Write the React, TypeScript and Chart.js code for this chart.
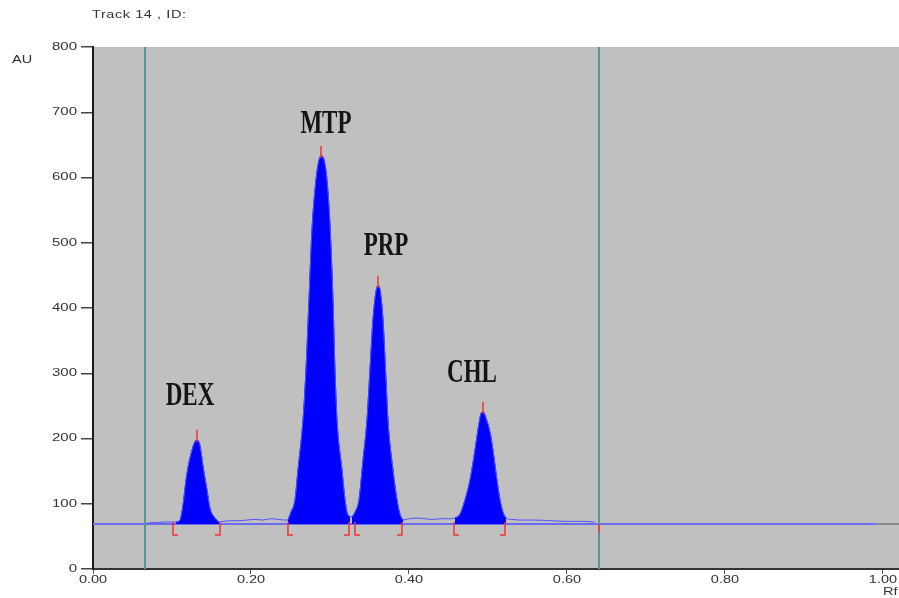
import React, { useEffect, useRef } from "react";
import { Chart, registerables } from "chart.js";

Chart.register(...registerables);

// Axis ticks
const xTickValues = [0, 0.2, 0.4, 0.6, 0.8, 1.0];
const xTickLabels = ["0.00", "0.20", "0.40", "0.60", "0.80", "1.00"];
const yTickValues = [0, 100, 200, 300, 400, 500, 600, 700, 800];
const yTickLabels = ["0", "100", "200", "300", "400", "500", "600", "700", "800"];
const xMax = 1.0203;
const yMax = 800;

// Baseline
const baselineAU = 69;
const baselineEndRf = 0.991;

// Peak labels
const peakNames = ["DEX", "MTP", "PRP", "CHL"];
const labelRf = [0.1228, 0.2949, 0.3709, 0.4797];
const labelAu = [265, 682, 495, 300];

// Peak traces (Rf, AU)
const dexRf = [0.1051, 0.1101, 0.1139, 0.1177, 0.1203, 0.1253, 0.1291, 0.1316, 0.1354, 0.1392, 0.1443, 0.1481, 0.1544, 0.1595];
const dexAu = [72, 75, 98, 136, 156, 182, 195, 198, 189, 158, 121, 93, 78, 72];

const mtpRf = [0.2468, 0.2506, 0.2557, 0.2595, 0.2658, 0.2696, 0.2734, 0.2772, 0.281, 0.2848, 0.2886, 0.2924, 0.2962, 0.3, 0.3038, 0.3063, 0.3089, 0.3152, 0.319, 0.3215, 0.3253];
const mtpAu = [75, 87, 106, 152, 228, 305, 412, 520, 581, 619, 633, 627, 596, 527, 412, 305, 228, 152, 106, 87, 80];

const prpRf = [0.3278, 0.3316, 0.3367, 0.3418, 0.3468, 0.3506, 0.3544, 0.3582, 0.3608, 0.3633, 0.3671, 0.3709, 0.3734, 0.3797, 0.3848, 0.3886, 0.3924];
const prpAu = [80, 87, 106, 167, 228, 305, 382, 425, 434, 428, 382, 290, 228, 152, 106, 84, 75];

const chlRf = [0.4582, 0.4646, 0.4709, 0.4772, 0.4835, 0.4873, 0.4911, 0.4937, 0.4975, 0.5025, 0.5063, 0.5114, 0.5152, 0.519, 0.5228];
const chlAu = [78, 84, 106, 136, 182, 213, 238, 241, 231, 210, 182, 136, 106, 87, 78];

// Noise between peaks
const noiseARf = [0.068, 0.075, 0.082, 0.09, 0.097, 0.104];
const noiseAAu = [70, 71, 71, 72, 72, 72];
const noiseBRf = [0.165, 0.175, 0.185, 0.195, 0.205, 0.215, 0.225, 0.235, 0.243];
const noiseBAu = [73, 74, 74, 75, 76, 75, 77, 76, 75];
const noiseCRf = [0.4, 0.41, 0.42, 0.43, 0.44, 0.45];
const noiseCAu = [77, 78, 77, 76, 77, 77];
const noiseDRf = [0.53, 0.54, 0.56, 0.58, 0.6, 0.62, 0.635];
const noiseDAu = [76, 75, 75, 74, 73, 73, 72];

// Integration brackets and markers
const peakStartRf = [0.1013, 0.2468, 0.3316, 0.457];
const peakEndRf = [0.1608, 0.3241, 0.3911, 0.5215];
const trackLinesRf = [0.0658, 0.6405];
const endMarkRf = [0.6405];

const pts = (xs: number[], ys: number[]) => xs.map((x, i) => ({ x, y: ys[i] }));

function drawText(
  ctx: CanvasRenderingContext2D,
  text: string,
  x: number,
  y: number,
  font: string,
  sx: number,
  sy: number,
  align: CanvasTextAlign,
  color: string,
  spacing = "0px"
) {
  ctx.save();
  ctx.translate(x, y);
  ctx.scale(sx, sy);
  ctx.font = font;
  ctx.fillStyle = color;
  ctx.textAlign = align;
  ctx.textBaseline = "middle";
  (ctx as any).letterSpacing = spacing;
  ctx.fillText(text, 0, 0);
  ctx.restore();
}

const decorPlugin = {
  id: "decor",
  beforeDraw(chart: any) {
    const { ctx, chartArea } = chart;
    ctx.save();
    ctx.fillStyle = "#c0c0c0";
    ctx.fillRect(chartArea.left, chartArea.top, chartArea.right - chartArea.left, chartArea.bottom - chartArea.top);
    ctx.restore();
  },
  afterDatasetsDraw(chart: any) {
    const { ctx, chartArea } = chart;
    const xs = chart.scales.x;
    const ys = chart.scales.y;
    ctx.save();
    // track lines
    ctx.strokeStyle = "#5b9494";
    ctx.lineWidth = 2;
    trackLinesRf.forEach((r) => {
      const px = Math.round(xs.getPixelForValue(r));
      ctx.beginPath();
      ctx.moveTo(px, chartArea.top);
      ctx.lineTo(px, chartArea.bottom);
      ctx.stroke();
    });
    // brackets
    ctx.strokeStyle = "#f03535";
    ctx.lineWidth = 1.5;
    const yTopB = ys.getPixelForValue(72);
    const yBotB = ys.getPixelForValue(52);
    peakStartRf.forEach((r) => {
      const px = xs.getPixelForValue(r);
      ctx.beginPath();
      ctx.moveTo(px, yTopB);
      ctx.lineTo(px, yBotB);
      ctx.lineTo(px + 5, yBotB);
      ctx.stroke();
    });
    peakEndRf.forEach((r) => {
      const px = xs.getPixelForValue(r);
      ctx.beginPath();
      ctx.moveTo(px, yTopB);
      ctx.lineTo(px, yBotB);
      ctx.lineTo(px - 5, yBotB);
      ctx.stroke();
    });
    endMarkRf.forEach((r) => {
      const px = xs.getPixelForValue(r);
      ctx.beginPath();
      ctx.moveTo(px, ys.getPixelForValue(baselineAU));
      ctx.lineTo(px, ys.getPixelForValue(55));
      ctx.stroke();
    });
    // apex markers
    [
      [dexRf, dexAu],
      [mtpRf, mtpAu],
      [prpRf, prpAu],
      [chlRf, chlAu],
    ].forEach(([rf, au]) => {
      let mi = 0;
      au.forEach((v, i) => {
        if (v > au[mi]) mi = i;
      });
      const px = xs.getPixelForValue(rf[mi]);
      const py = ys.getPixelForValue(au[mi]);
      ctx.beginPath();
      ctx.moveTo(px, py + 2);
      ctx.lineTo(px, py - 10);
      ctx.stroke();
    });
    ctx.restore();
    // peak labels
    peakNames.forEach((n, i) => {
      drawText(
        ctx,
        n,
        xs.getPixelForValue(labelRf[i]),
        ys.getPixelForValue(labelAu[i]),
        'bold 23px "Liberation Serif", "Times New Roman", serif',
        1,
        1.45,
        "center",
        "#141414"
      );
    });
  },
  afterDraw(chart: any) {
    const { ctx, chartArea } = chart;
    const xs = chart.scales.x;
    const ys = chart.scales.y;
    const f = '10px "Liberation Sans", Arial, sans-serif';
    const col = "#333333";
    yTickValues.forEach((v, i) => {
      const py = ys.getPixelForValue(v);
      drawText(ctx, yTickLabels[i], chartArea.left - 16, py, f, 1.5, 1, "right", col);
    });
    xTickValues.forEach((v, i) => {
      const px = xs.getPixelForValue(v);
      drawText(ctx, xTickLabels[i], px, chartArea.bottom + 11, f, 1.45, 1, "center", col);
    });
    drawText(ctx, "AU", 12, 60, f, 1.45, 1, "left", col);
    drawText(ctx, "Track 14 , ID:", 92, 15, f, 1.45, 1, "left", col, "0.4px");
    drawText(ctx, "Rf", xs.getPixelForValue(1.0), chartArea.bottom + 23, f, 1.45, 1, "left", col);
  },
};

export default function App() {
  const ref = useRef<HTMLCanvasElement | null>(null);

  useEffect(() => {
    document.body.style.margin = "0";
    const canvas = ref.current;
    if (!canvas) return;

    const trace = [
      ...pts(noiseARf, noiseAAu),
      ...pts(dexRf, dexAu),
      ...pts(noiseBRf, noiseBAu),
      ...pts(mtpRf, mtpAu),
      ...pts(prpRf, prpAu),
      ...pts(noiseCRf, noiseCAu),
      ...pts(chlRf, chlAu),
      ...pts(noiseDRf, noiseDAu),
    ];

    const peakDs = (rf: number[], au: number[]) => ({
      data: pts(rf, au),
      borderColor: "#0000ff",
      backgroundColor: "#0000ff",
      borderWidth: 1,
      fill: { value: baselineAU },
      pointRadius: 0,
      cubicInterpolationMode: "monotone",
    });

    const chart = new Chart(canvas, {
      type: "line",
      data: {
        datasets: [
          {
            data: trace,
            borderColor: "#5050ff",
            borderWidth: 1,
            pointRadius: 0,
            fill: false,
            cubicInterpolationMode: "monotone",
          } as any,
          peakDs(dexRf, dexAu),
          peakDs(mtpRf, mtpAu),
          peakDs(prpRf, prpAu),
          peakDs(chlRf, chlAu),
          {
            data: [
              { x: 0, y: baselineAU },
              { x: baselineEndRf, y: baselineAU },
            ],
            borderColor: "#6c6cf0",
            borderWidth: 2,
            pointRadius: 0,
            fill: false,
          },
          {
            data: [
              { x: baselineEndRf, y: baselineAU },
              { x: xMax, y: baselineAU },
            ],
            borderColor: "#8a8a8a",
            borderWidth: 2,
            pointRadius: 0,
            fill: false,
          },
        ],
      },
      options: {
        responsive: false,
        maintainAspectRatio: false,
        devicePixelRatio: 1,
        animation: false,
        events: [],
        layout: { padding: { top: 47, left: 0, right: 0, bottom: 0 } },
        plugins: { legend: { display: false }, tooltip: { enabled: false } },
        scales: {
          x: {
            type: "linear",
            min: 0,
            max: xMax,
            afterBuildTicks: (s: any) => {
              s.ticks = xTickValues.map((v) => ({ value: v }));
            },
            afterFit: (s: any) => {
              s.height = 29;
            },
            ticks: { display: false },
            grid: { drawOnChartArea: false, drawTicks: true, tickLength: 5, color: "#555", lineWidth: 1 },
            border: { display: true, color: "#333", width: 2 },
          },
          y: {
            type: "linear",
            min: 0,
            max: yMax,
            afterBuildTicks: (s: any) => {
              s.ticks = yTickValues.map((v) => ({ value: v }));
            },
            afterFit: (s: any) => {
              s.width = 93;
            },
            ticks: { display: false },
            grid: { drawOnChartArea: false, drawTicks: true, tickLength: 12, color: "#444", lineWidth: 1.5 },
            border: { display: true, color: "#1a1a1a", width: 2 },
          },
        },
      } as any,
      plugins: [decorPlugin],
    });

    return () => chart.destroy();
  }, []);

  return (
    <div style={{ width: 899, height: 598 }}>
      <canvas ref={ref} width={899} height={598} style={{ display: "block", width: 899, height: 598 }} />
    </div>
  );
}
